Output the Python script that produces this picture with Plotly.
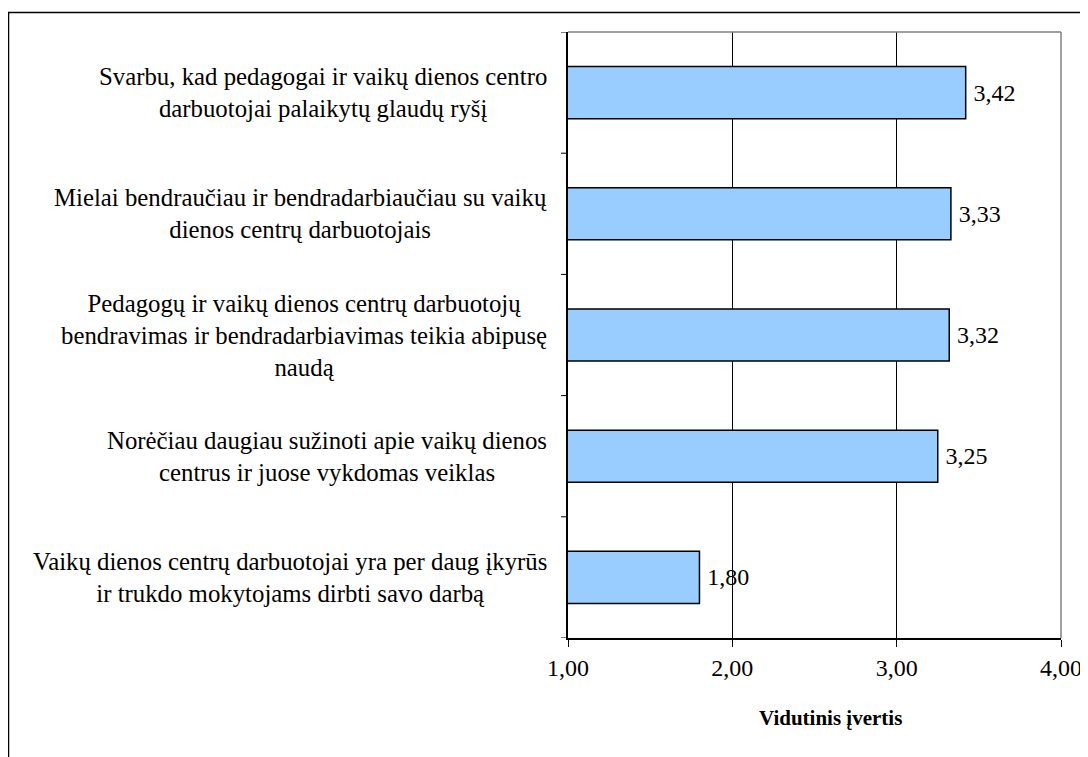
import plotly.graph_objects as go

categories = [
    "Svarbu, kad pedagogai ir vaikų dienos centro<br>darbuotojai palaikytų glaudų ryšį",
    "Mielai bendraučiau ir bendradarbiaučiau su vaikų<br>dienos centrų darbuotojais",
    "Pedagogų ir vaikų dienos centrų darbuotojų<br>bendravimas ir bendradarbiavimas teikia abipusę<br>naudą",
    "Norėčiau daugiau sužinoti apie vaikų dienos<br>centrus ir juose vykdomas veiklas",
    "Vaikų dienos centrų darbuotojai yra per daug įkyrūs<br>ir trukdo mokytojams dirbti savo darbą",
]
values = [3.42, 3.33, 3.32, 3.25, 1.80]
x_ticks = [1, 2, 3, 4]
x_title = "Vidutinis įvertis"

FONT = "Liberation Serif, Times New Roman, serif"
FS = 24
FS_CAT = 24.8
FS_TITLE = 21
W, H = 1088, 757
OFF = 8  # page body margin
L, R, T, B = 568 - OFF, 1061 - OFF, 32 - OFF, 638 - OFF
PW, PH = R - L, B - T


def px(xs):
    return (xs - OFF - L) / PW


def py(ys):
    return (B - (ys - OFF)) / PH


fig = go.Figure(go.Bar(
    y=list(range(len(categories))), x=values, orientation="h",
    marker=dict(color="#99CCFF", line=dict(color="black", width=1.5)),
    texttemplate="\u2009%{x:.2f}", textposition="outside", cliponaxis=False,
    textfont=dict(family=FONT, size=FS, color="black"),
))

fig.update_layout(
    width=W, height=H,
    margin=dict(l=L, r=W - R, t=T, b=H - B),
    paper_bgcolor="white", plot_bgcolor="white",
    separators=",.",
    bargap=0.57,
    showlegend=False,
    font=dict(family=FONT, size=FS, color="black"),
)
fig.update_xaxes(
    range=[1, 4], tickvals=x_ticks, tickformat=".2f",
    showgrid=True, gridcolor="black", gridwidth=1,
    showline=True, linecolor="black", linewidth=1.5,
    ticks="outside", ticklen=7, tickcolor="black",
    tickfont=dict(family=FONT, size=FS, color="black"),
    zeroline=False,
)
fig.update_yaxes(
    range=[len(categories) - 0.5, -0.5],
    showticklabels=False, showgrid=False, zeroline=False,
    showline=True, linecolor="black", linewidth=1.5,
)

# outward ticks at category boundaries
for i in range(len(categories) + 1):
    fig.add_shape(type="line", xref="paper", yref="y",
                  x0=-7 / PW, x1=0, y0=i - 0.5, y1=i - 0.5,
                  line=dict(color="black", width=1))

# category labels (centered multi-line blocks)
for i, c in enumerate(categories):
    fig.add_annotation(text=c, xref="paper", yref="y",
                       x=px(549), y=i, xanchor="right", yanchor="middle",
                       align="center", showarrow=False,
                       font=dict(family=FONT, size=FS_CAT, color="black"))

# grey top / right border of plot area
fig.add_shape(type="line", xref="paper", yref="paper", x0=0, x1=1, y0=1, y1=1,
              line=dict(color="#808080", width=1.5))
fig.add_shape(type="line", xref="paper", yref="paper", x0=1, x1=1, y0=0, y1=1,
              line=dict(color="#808080", width=1.5))

# axis title
fig.add_annotation(text="<b>" + x_title + "</b>", xref="paper", yref="paper",
                   x=px(830), y=py(718),
                   xanchor="center", yanchor="middle", showarrow=False,
                   font=dict(family=FONT, size=FS_TITLE, color="black"))

# outer chart border
fig.add_shape(type="rect", xref="paper", yref="paper",
              x0=px(8.5), x1=px(1083), y0=py(790), y1=py(12.5),
              line=dict(color="black", width=1.5))

fig.write_html("out.html")
